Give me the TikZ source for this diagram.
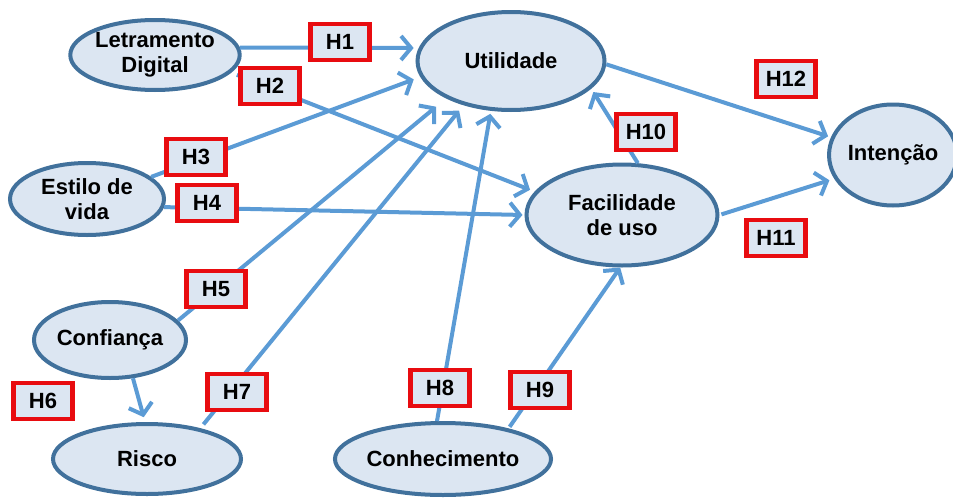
\documentclass[tikz,border=0pt]{standalone}
\usepackage{fontspec}
\setmainfont{Liberation Sans}
\usetikzlibrary{shapes.geometric,arrows.meta}

\definecolor{cfill}{RGB}{220,230,242}
\definecolor{cedge}{RGB}{65,113,156}
\definecolor{carrow}{RGB}{91,155,213}
\definecolor{chyp}{RGB}{232,12,16}

\tikzset{
  construct/.style={ellipse, draw=cedge, fill=cfill, line width=4pt,
    inner sep=0pt, align=center,
    font=\fontsize{22}{25}\selectfont\bfseries},
  hyp/.style={rectangle, draw=chyp, fill=cfill, line width=4.5pt,
    minimum width=59pt, minimum height=36pt, inner sep=0pt,
    font=\fontsize{22}{25}\selectfont\bfseries},
  path/.style={draw=carrow, line width=4pt,
    -{Straight Barb[length=10pt,width=24pt]}}
}

\begin{document}
\begin{tikzpicture}[x=1pt, y=-1pt]
\useasboundingbox (0,0) rectangle (953,498);

% constructs of the model
\node[construct, minimum width=152pt, minimum height=70pt] (letr)  at (155,55)  {Letramento\\Digital};
\node[construct, minimum width=187pt, minimum height=98pt] (util)  at (511,61)  {Utilidade};
\node[construct, minimum width=154pt, minimum height=72pt] (estilo) at (87,199) {Estilo de\\vida};
\node[construct, minimum width=191pt, minimum height=101pt] (facil) at (622,215) {Facilidade\\de uso};
\node[construct, minimum width=112pt, minimum height=101pt] (inten) at (893,155) {Intenção};
\node[construct, minimum width=152pt, minimum height=76pt] (conf)  at (110,340) {Confiança};
\node[construct, minimum width=188pt, minimum height=70pt] (risco) at (147,459) {Risco};
\node[construct, minimum width=172pt, minimum height=72pt] (conh)  at (443,459) {Conhecimento};

% hypothesised paths
\draw[path, shorten >=5pt]                   (letr.5)    -- (util.172);
\draw[path, shorten <=6pt, shorten >=5pt]    (letr.-13)  -- (facil.165);
\draw[path, shorten >=7pt]                   (estilo.19) -- (util.190);
\draw[path, shorten >=2pt]                   (estilo.-6) -- (facil.180);
\draw[path, shorten >=13pt]                  (conf.16)   -- (util.210);
\draw[path, shorten >=5pt]                   (conf.-59)  -- (risco.93);
\draw[path, shorten <=5pt, shorten >=7pt]    (risco.30)  -- (util.223);
\draw[path, shorten >=3pt]                   (conh.99)   -- (util.248);
\draw[path, shorten <=2pt]                   (conh.25)   -- (facil.268);
\draw[path, shorten >=4pt]                   (facil.73)  -- (util.-19);
\draw[path, shorten >=3pt]                   (util.-2)   -- (inten.164);
\draw[path, shorten <=2pt, shorten >=5pt]    (facil.0)   -- (inten.202);

% hypothesis labels
\node[hyp] (h1)  at (340,42)  {H1};
\node[hyp] (h2)  at (270,86)  {H2};
\node[hyp] (h3)  at (196,157) {H3};
\node[hyp] (h4)  at (207,203) {H4};
\node[hyp] (h5)  at (216,289) {H5};
\node[hyp] (h6)  at (43,401)  {H6};
\node[hyp] (h7)  at (237,392) {H7};
\node[hyp] (h8)  at (440,388) {H8};
\node[hyp] (h9)  at (540,390) {H9};
\node[hyp] (h10) at (646,132) {H10};
\node[hyp] (h11) at (776,238) {H11};
\node[hyp] (h12) at (786,79)  {H12};
\end{tikzpicture}
\end{document}
